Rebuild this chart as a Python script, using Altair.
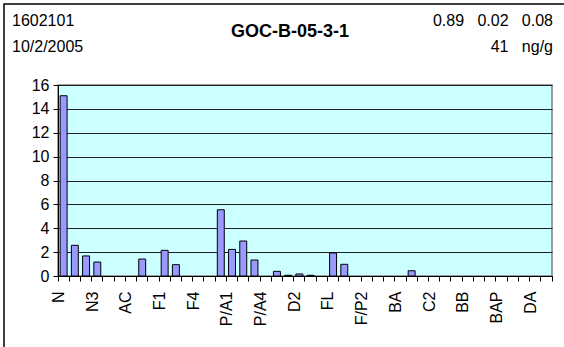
import altair as alt
import pandas as pd

# PAH analytes in reporting order, with concentrations (ng/g)
analytes = ["N", "N1", "N2", "N3", "N4", "B", "AC", "AE", "F", "F1", "F2", "F3",
            "F4", "A", "P", "P/A1", "P/A2", "P/A3", "P/A4", "D", "D1", "D2",
            "D3", "D4", "FL", "PY", "F/P1", "F/P2", "F/P3", "F/P4", "BA", "C",
            "C1", "C2", "C3", "C4", "BB", "BK", "BE", "BAP", "PER", "IP", "DA",
            "BZ"]
concentrations = [15.1, 2.57, 1.68, 1.17, 0, 0, 0, 1.42, 0, 2.15, 0.95, 0,
                  0, 0, 5.55, 2.23, 2.93, 1.34, 0, 0.39, 0.06, 0.17,
                  0.06, 0, 1.93, 0.98, 0, 0, 0, 0, 0, 0.44,
                  0, 0, 0, 0, 0, 0, 0, 0, 0, 0, 0,
                  0]

# header texts (non-breaking spaces keep the wide gaps)
NB = "\u00a0"
station_id = ["1602101"]
sample_date = ["10/2/2005"]
sample_name = ["GOC-B-05-3-1"]
ratios = [f"0.89{NB * 3}0.02{NB * 3}0.08"]
total_units = [f"41{NB * 3}ng/g"]

y_ticks = list(range(0, 17, 2))

W, H = 494, 191
FONT = "Liberation Sans"
FS = 16

df = pd.DataFrame({"analyte": analytes, "value": concentrations})

cat_list = "[" + ",".join("'" + c + "'" for c in analytes) + "]"
label_expr = f"indexof({cat_list}, datum.value) % 3 == 0 ? datum.value : ''"

step = W / len(analytes)

x_enc = alt.X(
    "analyte:N",
    sort=analytes,
    scale=alt.Scale(domain=analytes, paddingInner=0, paddingOuter=0),
    axis=alt.Axis(
        title=None,
        labelExpr=label_expr,
        labelAngle=270,
        labelFont=FONT,
        labelFontSize=FS,
        labelColor="black",
        labelPadding=10,
        labelOffset=-step / 2 + 1,
        bandPosition=1,
        tickExtra=True,
        tickSize=5,
        tickColor="black",
        domainColor="black",
        grid=False,
        labelOverlap=False,
    ),
)

y_enc = alt.Y(
    "value:Q",
    scale=alt.Scale(domain=[0, 16], nice=False),
    axis=alt.Axis(
        title=None,
        values=y_ticks,
        labelFont=FONT,
        labelFontSize=FS,
        labelColor="black",
        labelPadding=4,
        tickSize=5,
        tickColor="black",
        domainColor="black",
        grid=True,
        gridColor="#202020",
        gridWidth=1,
    ),
)

bars = (
    alt.Chart(df)
    .transform_filter("datum.value > 0")
    .mark_bar(
        width=alt.RelativeBandSize(0.62),
        color="#9999FF",
        stroke="black",
        strokeWidth=1,
    )
    .encode(x=x_enc, y=y_enc)
)

one = pd.DataFrame({"k": [0]})

frame = alt.Chart(one).mark_rect(
    fillOpacity=0, stroke="black", strokeWidth=1.5
).encode(
    x=alt.value(-54), x2=alt.value(540),
    y=alt.value(-81), y2=alt.value(300),
)


def label(text, x, y, align="left", bold=False, size=FS):
    return alt.Chart(one).mark_text(
        font=FONT, fontSize=size, align=align, baseline="alphabetic",
        fontWeight="bold" if bold else "normal", color="black",
    ).encode(x=alt.value(x), y=alt.value(y), text=alt.value(text))


texts = [
    label(station_id[0], -46, -59),
    label(sample_date[0], -46, -33),
    label(sample_name[0], 232, -48, align="center", bold=True, size=18),
    label(ratios[0], 495, -59, align="right"),
    label(total_units[0], 495, -33, align="right"),
]

chart = (
    alt.layer(bars, frame, *texts)
    .properties(
        width=W,
        height=H,
        padding={"left": 58, "top": 85, "right": 12, "bottom": 71},
        autosize=alt.AutoSizeParams(type="none"),
        background="white",
    )
    .configure_view(fill="#CCFFFF", stroke="#808080", strokeWidth=1.5)
)

chart.save("out.html", embed_options={"renderer": "svg", "actions": False})
